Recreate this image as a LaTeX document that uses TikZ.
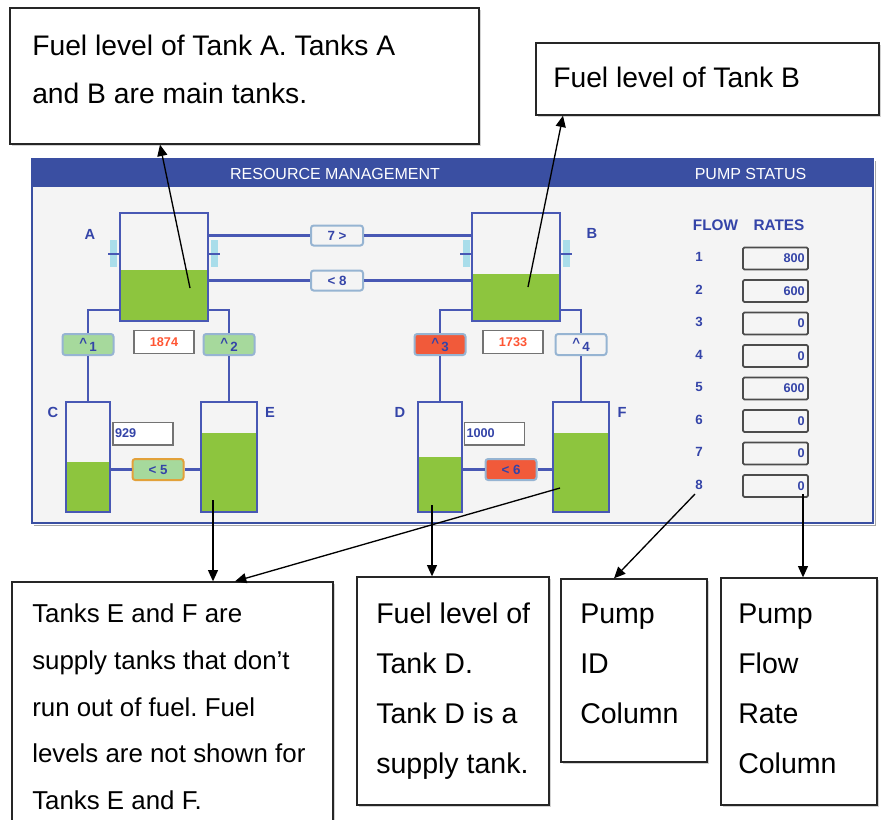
\documentclass[tikz,border=0pt]{standalone}
\usepackage{fontspec}
\setmainfont{Liberation Sans}
\usetikzlibrary{arrows.meta,shadows}
\frenchspacing

\definecolor{hdrblue}{HTML}{3A4FA2}
\definecolor{pipeblue}{HTML}{4858B4}
\definecolor{txtblue}{HTML}{3444A8}
\definecolor{panelbg}{HTML}{F4F4F4}
\definecolor{fuel}{HTML}{8DC53E}
\definecolor{pgreen}{HTML}{A6D99C}
\definecolor{pred}{HTML}{F15A3A}
\definecolor{pborder}{HTML}{96B4D2}
\definecolor{porange}{HTML}{E2A13A}
\definecolor{redtxt}{HTML}{FF5533}
\definecolor{sidecyan}{HTML}{A9DDEA}

\tikzset{
  notebox/.style={draw=black!85, fill=white, line width=1pt, inner sep=0pt,
    drop shadow={shadow xshift=1.2pt, shadow yshift=-1.2pt, opacity=0.35}},
  % multi-line text: the base anchor sits on the last line
  notetext/.style={anchor=base west, align=left, inner sep=0pt},
  panelbox/.style={draw=hdrblue, fill=panelbg, line width=2pt, inner sep=0pt,
    minimum width=630.75pt, minimum height=273pt},
  hdr/.style={text=white, font=\fontsize{12}{14}\selectfont},
  tank/.style={draw=pipeblue, line width=2pt, inner sep=0pt},
  pipe/.style={draw=pipeblue, line width=1.8pt},
  pump/.style={draw=pborder, line width=1.5pt, rounded corners=2pt, inner sep=0pt,
    minimum width=38.25pt, minimum height=15.75pt, text=txtblue,
    font=\bfseries\fontsize{10}{12}\selectfont},
  disp/.style={draw=black!55, fill=white, line width=1pt, inner sep=0pt,
    minimum width=45pt, minimum height=17pt, font=\bfseries\fontsize{9.5}{11}\selectfont},
  tlabel/.style={text=txtblue, font=\bfseries\fontsize{11}{12}\selectfont},
  flowhdr/.style={text=txtblue, font=\bfseries\fontsize{11.5}{13}\selectfont},
  pid/.style={text=txtblue, font=\bfseries\fontsize{10}{12}\selectfont},
  ratebox/.style={draw=black!70, fill=black!4, line width=1.3pt, rounded corners=1pt,
    inner xsep=2.5pt, inner ysep=0pt, text width=43.75pt, align=right,
    minimum height=16.5pt, text=txtblue, font=\bfseries\fontsize{9.5}{11}\selectfont},
  arr/.style={draw=black, line width=1pt, -{Triangle[length=8.5pt,width=7.5pt]}},
}

\newcommand{\upmark}[1]{\raisebox{1.5pt}{\textasciicircum}\,\raisebox{-1.5pt}{#1}}

\begin{document}
\begin{tikzpicture}[x=0.75pt, y=-0.75pt]
\useasboundingbox (0,0) rectangle (881,819);

% ---------- call-out boxes ----------
\node[notebox, minimum width=351.75pt, minimum height=102pt] (boxA) at (244.5,76) {};
\node[notebox, minimum width=257.25pt, minimum height=54pt] (boxB) at (707.5,79) {};
\node[notebox, minimum width=240.75pt, minimum height=186pt] (boxEF) at (172.5,706) {};
\node[notebox, minimum width=144pt, minimum height=171pt] (boxD) at (453,691) {};
\node[notebox, minimum width=109.5pt, minimum height=137.25pt] (boxID) at (634,670.5) {};
\node[notebox, minimum width=117pt, minimum height=170.25pt] (boxRate) at (799,691.5) {};

\node[notetext, font=\fontsize{21.2}{36}\selectfont] (txtA) at (32,103)
  {Fuel level of Tank A. Tanks A\\and B are main tanks.};
\node[notetext, font=\fontsize{21.2}{36}\selectfont] (txtB) at (553,87)
  {Fuel level of Tank B};
\node[notetext, font=\fontsize{19.4}{35}\selectfont] (txtEF) at (32,809.5)
  {Tanks E and F are\\supply tanks that don’t\\run out of fuel. Fuel\\levels are not shown for\\Tanks E and F.};
\node[notetext, font=\fontsize{21.4}{37.5}\selectfont] (txtD) at (376,773)
  {Fuel level of\\Tank D.\\Tank D is a\\supply tank.};
\node[notetext, font=\fontsize{21.4}{37.5}\selectfont] (txtID) at (580,723)
  {Pump\\ID\\Column};
\node[notetext, font=\fontsize{21.4}{37.5}\selectfont] (txtRate) at (738,773)
  {Pump\\Flow\\Rate\\Column};

% ---------- control panel ----------
\draw[black!35, line width=1pt] (34,525.5) -- (875.5,525.5) -- (875.5,161);
\node[panelbox] (panel) at (452.5,341) {};
\fill[hdrblue] (32,159) rectangle (873,187);
\node[hdr] (title) at (335,173.5) {RESOURCE MANAGEMENT};
\node[hdr] (pumpst) at (750.5,173.5) {PUMP STATUS};

% fuel levels
\fill[fuel] (120,270) rectangle (208,321);
\fill[fuel] (472,274) rectangle (560,321);
\fill[fuel] (66,462) rectangle (110,512);
\fill[fuel] (201,433) rectangle (257,512);
\fill[fuel] (418,457) rectangle (462,512);
\fill[fuel] (553,433) rectangle (609,512);

% side couplings of the main tanks
\fill[sidecyan] (110,240) rectangle (117,267);
\fill[sidecyan] (211,240) rectangle (218,267);
\fill[sidecyan] (463,240) rectangle (470,267);
\fill[sidecyan] (563,240) rectangle (570,267);

% tanks
\node[tank, minimum width=66pt, minimum height=81pt] (tankA) at (164,267) {};
\node[tank, minimum width=66pt, minimum height=81pt] (tankB) at (516,267) {};
\node[tank, minimum width=33pt, minimum height=82.5pt] (tankC) at (88,457) {};
\node[tank, minimum width=42pt, minimum height=82.5pt] (tankE) at (229,457) {};
\node[tank, minimum width=33pt, minimum height=82.5pt] (tankD) at (440,457) {};
\node[tank, minimum width=42pt, minimum height=82.5pt] (tankF) at (581,457) {};

\draw[pipe] (tankA.west |- 0,254) -- ++(-11,0);
\draw[pipe] (tankA.east |- 0,254) -- ++(11,0);
\draw[pipe] (tankB.west |- 0,254) -- ++(-11,0);
\draw[pipe] (tankB.east |- 0,254) -- ++(11,0);

% tank letters
\node[tlabel] (labA) at (90,234) {A};
\node[tlabel] (labB) at (592,233) {B};
\node[tlabel] (labC) at (53,412) {C};
\node[tlabel] (labE) at (270,412) {E};
\node[tlabel] (labD) at (400,412) {D};
\node[tlabel] (labF) at (622,412) {F};

% pumps
\node[pump, fill=pgreen] (pump1) at (88,344.5) {\upmark{1}};
\node[pump, fill=pgreen] (pump2) at (229,344.5) {\upmark{2}};
\node[pump, fill=pred] (pump3) at (440,344.5) {\upmark{3}};
\node[pump, fill=panelbg] (pump4) at (581,344.5) {\upmark{4}};
\node[pump, fill=pgreen, draw=porange] (pump5) at (158,469.5) {< 5};
\node[pump, fill=pred] (pump6) at (511,469.5) {< 6};
\node[pump, fill=panelbg, minimum width=39pt, minimum height=15pt] (pump7) at (337,235.5) {7 >};
\node[pump, fill=panelbg, minimum width=39pt, minimum height=15pt] (pump8) at (337,280.5) {< 8};

% pipes between tanks and pumps
\draw[pipe] (tankA.east |- pump7) -- (pump7.west);
\draw[pipe] (pump7.east) -- (tankB.west |- pump7);
\draw[pipe] (tankA.east |- pump8) -- (pump8.west);
\draw[pipe] (pump8.east) -- (tankB.west |- pump8);
\draw[pipe] (tankA.west |- 0,310) -| (pump1.north);
\draw[pipe] (tankA.east |- 0,310) -| (pump2.north);
\draw[pipe] (tankB.west |- 0,310) -| (pump3.north);
\draw[pipe] (tankB.east |- 0,310) -| (pump4.north);
\draw[pipe] (pump1.south) -- (tankC.north);
\draw[pipe] (pump2.south) -- (tankE.north);
\draw[pipe] (pump3.south) -- (tankD.north);
\draw[pipe] (pump4.south) -- (tankF.north);
\draw[pipe] (tankC.east |- pump5) -- (pump5.west);
\draw[pipe] (pump5.east) -- (tankE.west |- pump5);
\draw[pipe] (tankD.east |- pump6) -- (pump6.west);
\draw[pipe] (pump6.east) -- (tankF.west |- pump6);

% level displays
\node[disp, text=redtxt] (dispA) at (164,342) {1874};
\node[disp, text=redtxt] (dispB) at (513,342) {1733};
\node[disp, text=txtblue, text width=42pt, align=left, inner xsep=1.5pt] (dispC) at (143,433.5) {929};
\node[disp, text=txtblue, text width=42pt, align=left, inner xsep=1.5pt] (dispD) at (494.5,433.5) {1000};

% pump status column
\node[flowhdr] (flow) at (715.5,225) {FLOW};
\node[flowhdr] (rates) at (779,225) {RATES};
\foreach \i/\v in {1/800,2/600,3/0,4/0,5/600,6/0,7/0,8/0} {
  \node[pid] (id\i) at (699,{257+32.5*(\i-1)}) {\i};
  \node[ratebox] (rate\i) at (775.5,{258.5+32.5*(\i-1)}) {\v};
}

% pointers
\coordinate (srcA) at (190,288);
\coordinate (srcB) at (528,287);
\coordinate (srcE) at (213,500);
\coordinate (srcF) at (560,488);
\coordinate (srcD) at (432,505);
\coordinate (srcID) at (695,494);
\coordinate (srcRate) at (803,494);
\draw[arr] (srcA) -- (boxA.south -| 160,0);
\draw[arr] (srcB) -- (boxB.south -| 563,0);
\draw[arr] (srcE) -- (boxEF.north -| 213,0);
\draw[arr] (srcF) -- (boxEF.north -| 235,0);
\draw[arr] (srcD) -- (boxD.north -| 432,0);
\draw[arr] (srcID) -- (boxID.north -| 614,0);
\draw[arr] (srcRate) -- (boxRate.north -| 803,0);
\end{tikzpicture}
\end{document}
